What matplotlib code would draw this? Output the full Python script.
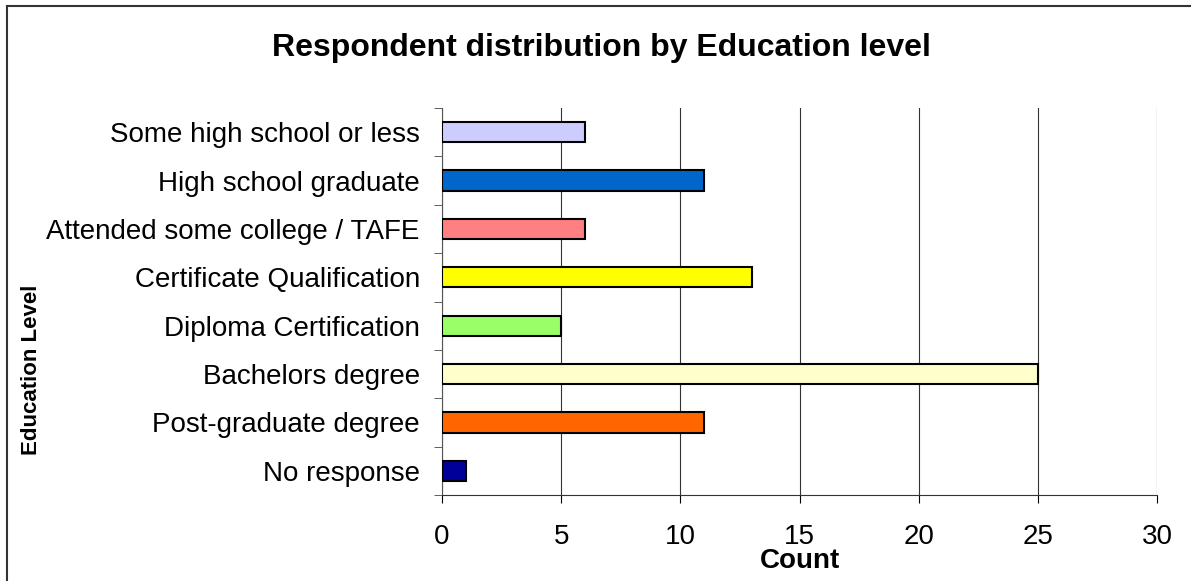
import matplotlib.pyplot as plt
import numpy as np
from matplotlib.lines import Line2D

plt.rcParams['font.family'] = ['Liberation Sans', 'DejaVu Sans']

categories = ["Some high school or less", "High school graduate",
              "Attended some college / TAFE", "Certificate Qualification",
              "Diploma Certification", "Bachelors degree",
              "Post-graduate degree", "No response"]
counts = [6, 11, 6, 13, 5, 25, 11, 1]
colors = ["#CCCCFF", "#0066CC", "#FF8080", "#FFFF00",
          "#99FF66", "#FFFFCC", "#FF6600", "#000099"]

fig = plt.figure(figsize=(11.91, 5.81), dpi=100)
ax = fig.add_axes([442/1191, 1 - 495/581, (1157 - 442)/1191, (495 - 108)/581])

y = np.arange(len(categories))
ax.barh(y, counts, height=0.42, color=colors, edgecolor="black", linewidth=1.5, zorder=3)

ax.set_ylim(len(categories) - 0.5, -0.5)
ax.set_xlim(0, 30)
ax.set_xticks(np.arange(0, 31, 5))
ax.set_yticks(y)
ax.set_yticklabels(categories, fontsize=20)
ax.set_yticks(np.arange(-0.5, len(categories), 1), minor=True)
ax.tick_params(axis="y", which="major", length=0, pad=16)
ax.tick_params(axis="y", which="minor", length=6, direction="out", color="#444444")
ax.tick_params(axis="x", length=6, direction="out", labelsize=20, pad=15)

ax.grid(axis="x", color="#333333", linewidth=0.8, zorder=0)
ax.spines["top"].set_visible(False)
ax.spines["right"].set_visible(False)
ax.spines["left"].set_color("#555555")
ax.spines["bottom"].set_color("#333333")

fig.text(800/1191, 1 - 561/581, "Count", fontsize=20, fontweight="bold",
         ha="center", va="center")
fig.text(32/1191, 1 - 370/581, "Education Level", rotation=90, fontsize=16,
         fontweight="bold", ha="center", va="center")
fig.text(601/1191, 1 - 48/581, "Respondent distribution by Education level",
         fontsize=23, fontweight="bold", ha="center", va="center")

# chart border (extends past right/bottom edges)
fig.add_artist(Line2D([7/1191, 7/1191], [0, 1 - 6/581], color="#333333", linewidth=1.5))
fig.add_artist(Line2D([7/1191, 1], [1 - 6/581, 1 - 6/581], color="#333333", linewidth=1.5))

fig.savefig("out.png", dpi=100)
